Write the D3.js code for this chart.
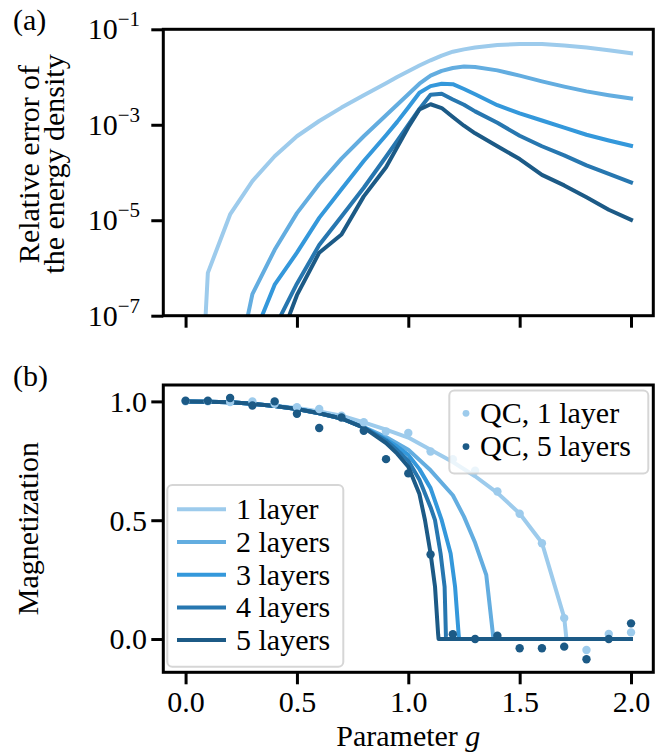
<!DOCTYPE html>
<html>
<head>
<meta charset="utf-8">
<script src="https://cdn.jsdelivr.net/npm/d3@7"></script>
<style>
  body { margin: 0; background: #ffffff; }
  svg { display: block; }
  text { font-family: "Liberation Serif", "DejaVu Serif", serif; fill: #000; }
</style>
</head>
<body>
<svg id="chart" width="665" height="756"></svg>
<script>
// ---- series names and colours ----
const layerNames = ["1 layer", "2 layers", "3 layers", "4 layers", "5 layers"];
const layerColors = ["#9dcbec", "#63ade0", "#3498db", "#2777b0", "#1c5a86"];

// ---- (a) relative error of the energy density vs g ----
const gErr = [0, 0.1, 0.2, 0.3, 0.4, 0.5, 0.6, 0.7, 0.8, 0.9, 0.95, 1.0, 1.05,
              1.1, 1.15, 1.2, 1.25, 1.3, 1.4, 1.5, 1.6, 1.7, 1.8, 1.9, 2.0];
const errLayer1 = [1e-15, 7.9e-7, 1.32e-5, 6.6e-5, 2.19e-4, 5.75e-4, 1.20e-3, 2.29e-3, 4.17e-3,
                   7.41e-3, 1.0e-2, 1.32e-2, 1.74e-2, 2.24e-2, 2.82e-2, 3.39e-2, 3.80e-2, 4.17e-2,
                   4.68e-2, 4.90e-2, 4.90e-2, 4.57e-2, 4.17e-2, 3.63e-2, 3.16e-2];
const errLayer2 = [1e-15, 1e-12, 1.78e-9, 2.82e-7, 2.40e-6, 1.41e-5, 5.75e-5, 1.95e-4, 5.75e-4,
                   1.58e-3, 2.63e-3, 4.37e-3, 7.24e-3, 1.07e-2, 1.35e-2, 1.55e-2, 1.66e-2, 1.62e-2,
                   1.38e-2, 1.07e-2, 8.13e-3, 6.31e-3, 5.01e-3, 4.17e-3, 3.55e-3];
const errLayer3 = [1e-15, 1e-14, 1e-11, 3.16e-8, 4.47e-7, 2.09e-6, 1.12e-5, 4.47e-5, 1.74e-4,
                   6.03e-4, 1.15e-3, 2.29e-3, 4.68e-3, 6.46e-3, 7.24e-3, 7.08e-3, 5.62e-3, 4.37e-3,
                   2.57e-3, 1.74e-3, 1.23e-3, 8.71e-4, 6.17e-4, 4.68e-4, 3.63e-4];
const errLayer4 = [1e-15, 1e-14, 1e-12, 1e-10, 5.62e-8, 4.68e-7, 3.02e-6, 1.20e-5, 4.79e-5,
                   2.14e-4, 4.57e-4, 1.0e-3, 2.14e-3, 4.27e-3, 4.47e-3, 3.39e-3, 2.63e-3, 1.91e-3,
                   1.10e-3, 5.89e-4, 3.55e-4, 2.29e-4, 1.41e-4, 9.33e-5, 6.17e-5];
const errLayer5 = [1e-15, 1e-14, 1e-13, 1e-11, 1.58e-8, 2.69e-7, 2.09e-6, 5.01e-6, 3.16e-5,
                   1.29e-4, 3.39e-4, 8.91e-4, 2.09e-3, 2.69e-3, 2.24e-3, 1.45e-3, 9.55e-4, 6.61e-4,
                   3.55e-4, 1.91e-4, 8.91e-5, 5.37e-5, 3.02e-5, 1.66e-5, 1.02e-5];
const errTickValues = [1e-1, 1e-3, 1e-5, 1e-7];
const errTickExponents = ["\u22121", "\u22123", "\u22125", "\u22127"];

// ---- (b) magnetization vs g ----
const magG1 = [0, 0.1, 0.2, 0.3, 0.4, 0.5, 0.6, 0.7, 0.8, 0.9, 1.0, 1.1, 1.2, 1.3, 1.4, 1.5, 1.6, 1.7, 1.71, 2.0];
const magLayer1 = [1.0, 0.999, 0.996, 0.99, 0.982, 0.972, 0.958, 0.94, 0.912, 0.881, 0.848, 0.797,
                   0.745, 0.685, 0.615, 0.528, 0.405, 0.09, 0, 0];
const magG2 = [0, 0.1, 0.2, 0.3, 0.4, 0.5, 0.6, 0.7, 0.8, 0.9, 1.0, 1.1, 1.2, 1.25, 1.3, 1.35, 1.38, 1.382, 2.0];
const magLayer2 = [1.0, 0.999, 0.996, 0.99, 0.981, 0.968, 0.95, 0.928, 0.892, 0.85, 0.797, 0.71,
                   0.605, 0.515, 0.405, 0.27, 0.02, 0, 0];
const magG3 = [0, 0.1, 0.2, 0.3, 0.4, 0.5, 0.6, 0.7, 0.8, 0.9, 0.95, 1.0, 1.05, 1.1, 1.15, 1.19, 1.21, 1.226, 1.228, 2.0];
const magLayer3 = [1.0, 0.999, 0.996, 0.99, 0.981, 0.968, 0.95, 0.928, 0.89, 0.84, 0.81, 0.775,
                   0.715, 0.635, 0.5, 0.36, 0.22, 0.02, 0, 0];
const magG4 = [0, 0.1, 0.2, 0.3, 0.4, 0.5, 0.6, 0.7, 0.8, 0.9, 0.95, 1.0, 1.05, 1.1, 1.12, 1.145, 1.163, 1.169, 1.17, 2.0];
const magLayer4 = [1.0, 0.999, 0.996, 0.99, 0.981, 0.968, 0.95, 0.928, 0.89, 0.835, 0.795, 0.75,
                   0.67, 0.555, 0.5, 0.36, 0.22, 0.01, 0, 0];
const magG5 = [0, 0.1, 0.2, 0.3, 0.4, 0.5, 0.6, 0.7, 0.8, 0.9, 0.95, 1.0, 1.05, 1.075, 1.1, 1.12, 1.134, 1.136, 2.0];
const magLayer5 = [1.0, 0.999, 0.996, 0.99, 0.981, 0.968, 0.95, 0.928, 0.89, 0.825, 0.78, 0.725,
                   0.61, 0.5, 0.36, 0.22, 0.02, 0, 0];

// quantum computer runs
const gQC = [0, 0.1, 0.2, 0.3, 0.4, 0.5, 0.6, 0.7, 0.8, 0.9, 1.0, 1.1, 1.2, 1.3, 1.4, 1.5, 1.6, 1.7, 1.8, 1.9, 2.0];
const qcLayer1 = [1.0, 1.0, 0.997, 1.0, 0.99, 0.976, 0.968, 0.94, 0.912, 0.874, 0.867, 0.789, 0.757,
                  0.708, 0.621, 0.527, 0.403, 0.088, -0.046, 0.021, 0.028];
const qcLayer5 = [1.003, 1.003, 1.014, 0.983, 1.0, 0.948, 0.888, 0.932, 0.876, 0.757, 0.697, 0.356,
                  0.02, 0.0, 0.014, -0.039, -0.039, -0.032, -0.085, 0.0, 0.066];
const qcNames = ["QC, 1 layer", "QC, 5 layers"];

const xTicks = [0, 0.5, 1.0, 1.5, 2.0];
const magTicks = [0, 0.5, 1.0];

// ---- layout ----
const svg = d3.select("#chart");
const FS = 30;
const axL = 163.3, axR = 653.3;
const topA = { y0: 29.3, y1: 315.7 };
const botA = { y0: 385, y1: 672.3 };

const x = d3.scaleLinear().domain([-0.1, 2.1]).range([axL, axR]);
const yErr = d3.scaleLog().domain([1e-7, 1e-1]).range([topA.y1, topA.y0]);
const yMag = d3.scaleLinear().domain([-0.14, 1.069]).range([botA.y1, botA.y0]);

const defs = svg.append("defs");
defs.append("clipPath").attr("id", "clipTop").append("rect")
  .attr("x", axL).attr("y", topA.y0).attr("width", axR - axL).attr("height", topA.y1 - topA.y0);
defs.append("clipPath").attr("id", "clipBot").append("rect")
  .attr("x", axL).attr("y", botA.y0).attr("width", axR - axL).attr("height", botA.y1 - botA.y0);

// ---- panel (a) ----
const errSeries = [errLayer1, errLayer2, errLayer3, errLayer4, errLayer5];
const lineErr = d3.line().x(d => x(d[0])).y(d => yErr(d[1]));
const gTop = svg.append("g").attr("clip-path", "url(#clipTop)");
errSeries.forEach((vals, i) => {
  gTop.append("path")
    .datum(gErr.map((g, j) => [g, vals[j]]))
    .attr("d", lineErr)
    .attr("fill", "none")
    .attr("stroke", layerColors[i])
    .attr("stroke-width", 4)
    .attr("stroke-linejoin", "round")
    .attr("stroke-linecap", "square");
});

// ---- panel (b) ----
const magSeries = [[magG1, magLayer1], [magG2, magLayer2], [magG3, magLayer3], [magG4, magLayer4], [magG5, magLayer5]];
const lineMag = d3.line().x(d => x(d[0])).y(d => yMag(d[1]));
const gBot = svg.append("g").attr("clip-path", "url(#clipBot)");
magSeries.forEach(([gs, ms], i) => {
  gBot.append("path")
    .datum(gs.map((g, j) => [g, ms[j]]))
    .attr("d", lineMag)
    .attr("fill", "none")
    .attr("stroke", layerColors[i])
    .attr("stroke-width", 4)
    .attr("stroke-linejoin", "round")
    .attr("stroke-linecap", "square");
});
[[qcLayer1, layerColors[0]], [qcLayer5, layerColors[4]]].forEach(([vals, col]) => {
  gBot.selectAll(null).data(gQC.map((g, j) => [g, vals[j]])).enter()
    .append("circle")
    .attr("cx", d => x(d[0])).attr("cy", d => yMag(d[1]))
    .attr("r", 4.2).attr("fill", col);
});

// ---- axes ----
function frame(a) {
  svg.append("rect")
    .attr("x", axL).attr("y", a.y0).attr("width", axR - axL).attr("height", a.y1 - a.y0)
    .attr("fill", "none").attr("stroke", "#000").attr("stroke-width", 3);
  const xa = svg.append("g").attr("transform", `translate(0,${a.y1})`)
    .call(d3.axisBottom(x).tickValues(xTicks).tickSize(12).tickSizeOuter(0).tickFormat(""));
  xa.select(".domain").remove();
  xa.selectAll("line").attr("stroke", "#000").attr("stroke-width", 3);
  return xa;
}
frame(topA);
const xaBot = frame(botA);
xaBot.selectAll(".tick").append("text")
  .attr("y", 712 - botA.y1).attr("text-anchor", "middle")
  .style("font-size", FS + "px")
  .text(d => d3.format(".1f")(d));

// log axis of panel (a)
const yaTop = svg.append("g").attr("transform", `translate(${axL},0)`)
  .call(d3.axisLeft(yErr).tickValues(errTickValues).tickSize(12).tickSizeOuter(0).tickFormat(""));
yaTop.select(".domain").remove();
yaTop.selectAll("line").attr("stroke", "#000").attr("stroke-width", 3);
yaTop.selectAll(".tick").each(function(d, i) {
  const t = d3.select(this).append("text")
    .attr("x", 140 - axL).attr("y", 9.5).attr("text-anchor", "end")
    .style("font-size", FS + "px");
  t.append("tspan").text("10");
  t.append("tspan").attr("dy", -13).style("font-size", "21px").text(errTickExponents[i]);
});

// linear axis of panel (b)
const yaBot = svg.append("g").attr("transform", `translate(${axL},0)`)
  .call(d3.axisLeft(yMag).tickValues(magTicks).tickSize(12).tickSizeOuter(0).tickFormat(""));
yaBot.select(".domain").remove();
yaBot.selectAll("line").attr("stroke", "#000").attr("stroke-width", 3);
yaBot.selectAll(".tick").append("text")
  .attr("x", 147 - axL).attr("y", 9.8).attr("text-anchor", "end")
  .style("font-size", FS + "px")
  .text(d => d3.format(".1f")(d));

// ---- axis titles and panel letters ----
svg.append("text").attr("x", 13).attr("y", 30).style("font-size", FS + "px").text("(a)");
svg.append("text").attr("x", 13).attr("y", 386).style("font-size", FS + "px").text("(b)");

[["Relative error of", 39], ["the energy density", 64]].forEach(([s, bx]) => {
  svg.append("text")
    .attr("transform", `translate(${bx},164) rotate(-90)`)
    .attr("text-anchor", "middle").style("font-size", FS + "px").text(s);
});
svg.append("text")
  .attr("transform", `translate(38,${(botA.y0 + botA.y1) / 2}) rotate(-90)`)
  .attr("text-anchor", "middle").style("font-size", FS + "px").text("Magnetization");

const xt = svg.append("text").attr("x", (axL + axR) / 2).attr("y", 746)
  .attr("text-anchor", "middle").style("font-size", FS + "px");
xt.append("tspan").text("Parameter ");
xt.append("tspan").style("font-style", "italic").text("g");

// ---- legends ----
function legendBox(x0, y0, w, h) {
  svg.append("rect")
    .attr("x", x0).attr("y", y0).attr("width", w).attr("height", h).attr("rx", 5)
    .attr("fill", "#fff").attr("fill-opacity", 0.8)
    .attr("stroke", "#cccccc").attr("stroke-opacity", 0.8).attr("stroke-width", 2);
}
legendBox(449.3, 390.5, 199, 83);
qcNames.forEach((name, i) => {
  const cy = 413.3 + i * 33.3;
  svg.append("circle").attr("cx", 466).attr("cy", cy).attr("r", 3.4)
    .attr("fill", i === 0 ? layerColors[0] : layerColors[4]);
  svg.append("text").attr("x", 480).attr("y", cy + 9.8).style("font-size", FS + "px").text(name);
});

legendBox(167.3, 485, 176, 181.7);
layerNames.forEach((name, i) => {
  const cy = 509.3 + i * 32.7;
  svg.append("line").attr("x1", 177).attr("x2", 226).attr("y1", cy).attr("y2", cy)
    .attr("stroke", layerColors[i]).attr("stroke-width", 4);
  svg.append("text").attr("x", 236).attr("y", cy + 9.8).style("font-size", FS + "px").text(name);
});
</script>
</body>
</html>
